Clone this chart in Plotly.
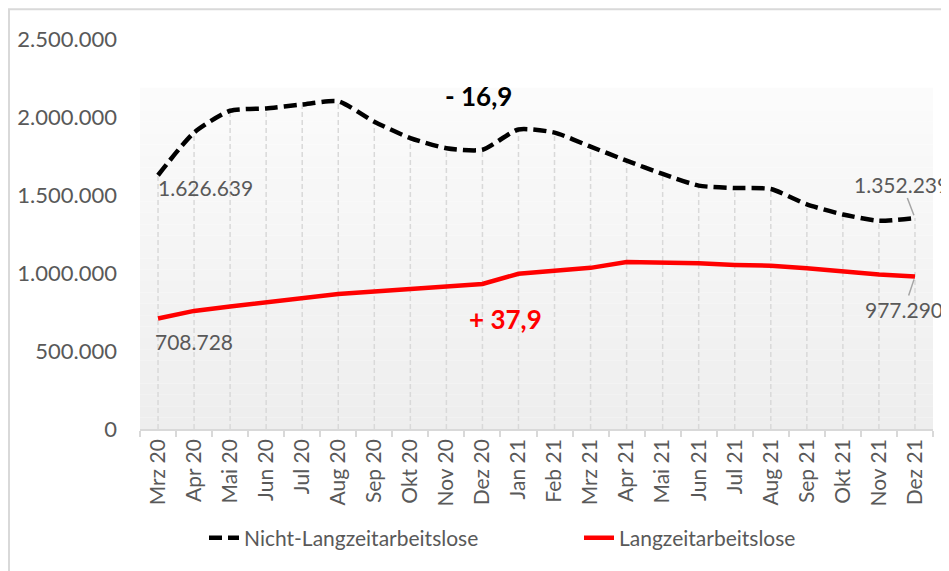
import plotly.graph_objects as go

months = ["Mrz 20", "Apr 20", "Mai 20", "Jun 20", "Jul 20", "Aug 20", "Sep 20", "Okt 20",
          "Nov 20", "Dez 20", "Jan 21", "Feb 21", "Mrz 21", "Apr 21", "Mai 21", "Jun 21",
          "Jul 21", "Aug 21", "Sep 21", "Okt 21", "Nov 21", "Dez 21"]
nicht_lza = [1626639, 1900000, 2040000, 2055000, 2080000, 2100000, 1970000, 1865000,
             1800000, 1790000, 1920000, 1900000, 1810000, 1720000, 1635000, 1560000,
             1545000, 1538000, 1440000, 1375000, 1335000, 1352239]
lza = [708728, 757000, 785000, 813000, 840000, 865000, 882000, 900000,
       912000, 930000, 995000, 1013000, 1033000, 1070000, 1067000, 1062000,
       1052000, 1047000, 1030000, 1010000, 990000, 977290]
names = ["Nicht-Langzeitarbeitslose", "Langzeitarbeitslose"]
changes = ["- 16,9", "+ 37,9"]
y_ticks = [0, 500000, 1000000, 1500000, 2000000, 2500000]

FONT = "Lato"
GREY = "#595959"

# page body has an 8px margin -> figure is drawn 8px in from the page corner
W, H = 941, 563
L, R, T, B = 132, 16, 31, 139
PW = W - L - R
PH = H - T - B

def de(v):
    return f"{v:,}".replace(",", ".")

fig = go.Figure()

# drop lines
dx, dy = [], []
for m, a, b in zip(months, nicht_lza, lza):
    dx += [m, m, None]
    dy += [0, max(a, b), None]
fig.add_trace(go.Scatter(x=dx, y=dy, mode="lines", showlegend=False, hoverinfo="skip",
                         line=dict(color="#d9d9d9", width=1.5, dash="5px,3px")))

fig.add_trace(go.Scatter(x=months, y=nicht_lza, mode="lines", name=names[0], legend="legend",
                         line=dict(color="#000000", width=4.5, dash="13px,6px",
                                   shape="spline", smoothing=0.6)))
fig.add_trace(go.Scatter(x=months, y=lza, mode="lines", name=names[1], legend="legend2",
                         line=dict(color="#ff0000", width=4.5)))

# gradient plot-area background
n = 30
top = (432 - 88) / PH
for i in range(n):
    t = i / (n - 1)
    c = int(round(0xfb - (0xfb - 0xee) * t))
    fig.add_shape(type="rect", xref="paper", yref="paper", x0=0, x1=1,
                  y0=top - (i + 1) * top / n, y1=top - i * top / n,
                  fillcolor=f"rgb({c},{c},{c})", line_width=0, layer="below")

# chart border (top and left edges visible)
fig.add_shape(type="rect", xref="paper", yref="paper",
              x0=(1 - L) / PW, x1=(W + 30 - L) / PW,
              y0=-(B + 30) / PH, y1=(PH + T - 1) / PH,
              line=dict(color="#d9d9d9", width=2), fillcolor="rgba(0,0,0,0)", layer="below")

lab_font = dict(family=FONT, size=21, color=GREY)
# data labels first points
fig.add_annotation(x=0, y=nicht_lza[0], text=de(nicht_lza[0]), showarrow=False,
                   xanchor="left", yanchor="middle", xshift=-2, yshift=-12, font=lab_font)
fig.add_annotation(x=0, y=lza[0], text=de(lza[0]), showarrow=False,
                   xanchor="left", yanchor="middle", xshift=-5, yshift=-23, font=lab_font)
# last points with leader lines
fig.add_annotation(x=len(months) - 1, y=nicht_lza[-1], text=de(nicht_lza[-1]), showarrow=True,
                   arrowhead=0, arrowcolor="#a6a6a6", arrowwidth=1.5, ax=-13, ay=-34,
                   standoff=3, font=lab_font)
fig.add_annotation(x=len(months) - 1, y=lza[-1], text=de(lza[-1]), showarrow=True,
                   arrowhead=0, arrowcolor="#a6a6a6", arrowwidth=1.5, ax=-11, ay=33,
                   standoff=3, font=lab_font)

# change annotations
fig.add_annotation(x=8.88, y=2137000, text=f"<b>{changes[0]}</b>", showarrow=False,
                   font=dict(family=FONT, size=26, color="#000000"))
fig.add_annotation(x=9.65, y=705000, text=f"<b>{changes[1]}</b>", showarrow=False,
                   font=dict(family=FONT, size=26, color="#ff0000"))

leg_common = dict(orientation="h", xanchor="left", y=-0.28, yanchor="middle",
                  font=dict(family=FONT, size=21, color=GREY), itemwidth=30,
                  bgcolor="rgba(0,0,0,0)")

fig.update_layout(
    width=W, height=H,
    margin=dict(l=L, r=R, t=T, b=B),
    paper_bgcolor="white", plot_bgcolor="rgba(0,0,0,0)",
    separators=",.",
    font=dict(family=FONT, size=21, color=GREY),
    showlegend=True,
    legend=dict(x=(196 - L) / PW, **leg_common),
    legend2=dict(x=(571 - L) / PW, **leg_common),
    xaxis=dict(type="category", categoryorder="array", categoryarray=months,
               range=[-0.5, len(months) - 0.5], tickangle=-90, tickson="boundaries",
               ticks="outside", ticklen=6, tickcolor="#d9d9d9", tickwidth=1.5,
               showline=True, linecolor="#d9d9d9", linewidth=1.5, showgrid=False,
               zeroline=False, automargin=False,
               tickfont=dict(family=FONT, size=21, color=GREY)),
    yaxis=dict(range=[0, 2500000], tickvals=y_ticks, tickformat=",d",
               showgrid=False, zeroline=False, showline=False, ticks="",
               automargin=False,
               ticklabelstandoff=22, tickfont=dict(family=FONT, size=22, color=GREY)),
)

fig.write_html("out.html")
